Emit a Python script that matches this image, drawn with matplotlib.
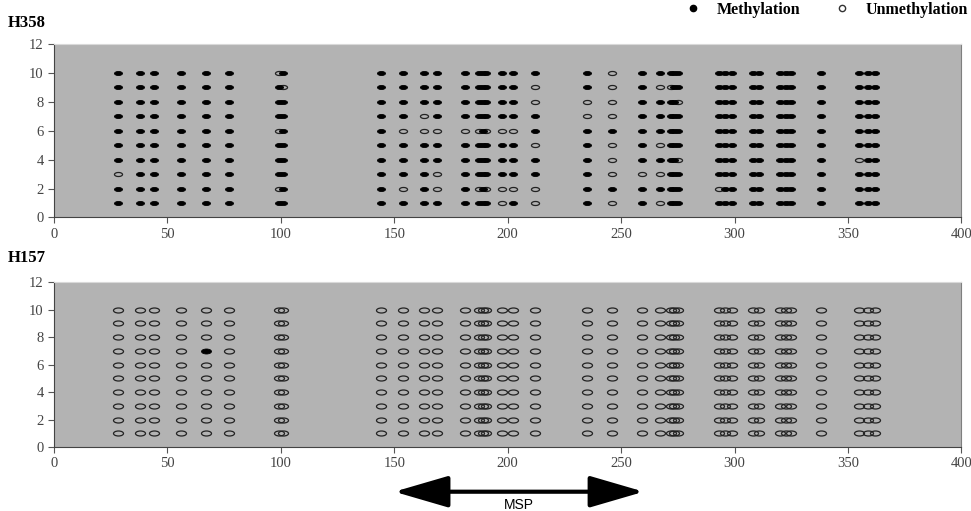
import matplotlib
matplotlib.use("Agg")
import matplotlib.pyplot as plt
from matplotlib.path import Path
from matplotlib.transforms import Affine2D
from matplotlib.lines import Line2D

# CpG site positions (bp)
sites = [28, 38, 44, 56, 67, 77, 99, 101,
         144, 154, 163, 169, 181, 187.5, 189, 190.5, 197.5, 202.5, 212,
         235, 246, 259, 267, 272, 273.5, 275,
         293, 296, 299, 308, 311, 320, 322.5, 325, 338, 355, 359, 362]
clones = [1, 2, 3, 4, 5, 6, 7, 8, 9, 10]

# H358: clones that are unmethylated at a given site (all others methylated)
h358_unmeth = {28: [3], 99: [10, 6, 2], 101: [9], 154: [6, 2], 163: [7, 6],
               169: [6, 3, 2], 181: [6], 187.5: [6, 2], 190.5: [6, 2],
               197.5: [6, 2, 1], 202.5: [6, 2], 212: [9, 8, 5, 2, 1],
               235: [8, 7], 246: [10, 9, 8, 7, 5, 4, 3, 1], 259: [3],
               267: [9, 5, 3, 1], 272: [9], 275: [8, 4], 293: [2], 355: [4]}

# H157: clones that are methylated at a given site (all others unmethylated)
h157_meth = {67: [7]}

panel_names = ["H358", "H157"]
x_ticks = [0, 50, 100, 150, 200, 250, 300, 350, 400]
y_ticks = [0, 2, 4, 6, 8, 10, 12]
msp_range = [150, 260]

bg = "#b3b3b3"
serif = "Liberation Serif"

ellipse = Path.unit_circle().transformed(Affine2D().scale(1, 0.5))


def split_status(meth_lookup, default_meth):
    mx, my, ux, uy = [], [], [], []
    for s in sites:
        listed = meth_lookup.get(s, [])
        for c in clones:
            is_meth = (c not in listed) if default_meth else (c in listed)
            if is_meth:
                mx.append(s); my.append(c)
            else:
                ux.append(s); uy.append(c)
    return mx, my, ux, uy


fig = plt.figure(figsize=(9.71, 5.11), dpi=100)
ax1 = fig.add_axes([0.0556, 0.5744, 0.9345, 0.3395])
ax2 = fig.add_axes([0.0556, 0.1252, 0.9345, 0.3229])

panels = [(ax1, split_status(h358_unmeth, True), 5.8),
          (ax2, split_status(h157_meth, False), 7.2)]

for ax, (mx, my, ux, uy), ms in panels:
    ax.set_facecolor(bg)
    ax.plot(ux, uy, linestyle="none", marker=ellipse, markersize=ms,
            markerfacecolor="none", markeredgecolor="#222222", markeredgewidth=0.9)
    ax.plot(mx, my, linestyle="none", marker=ellipse, markersize=ms,
            markerfacecolor="black", markeredgecolor="black", markeredgewidth=0.6)
    ax.set_xlim(0, 400)
    ax.set_ylim(0, 12)
    ax.set_xticks(x_ticks)
    ax.set_yticks(y_ticks)
    ax.tick_params(direction="out", length=4, color="#555555", labelcolor="#444444",
                   labelsize=10.5)
    for lab in ax.get_xticklabels() + ax.get_yticklabels():
        lab.set_fontfamily(serif)
    ax.spines["left"].set_color("#444444")
    ax.spines["bottom"].set_color("#444444")
    ax.spines["top"].set_color("#d9d9d9")
    ax.spines["right"].set_color("#7f7f7f")

fig.text(0.008, 0.955, panel_names[0], fontfamily=serif, fontweight="bold",
         fontsize=12, va="center")
fig.text(0.008, 0.495, panel_names[1], fontfamily=serif, fontweight="bold",
         fontsize=12, va="center")

handles = [Line2D([], [], linestyle="none", marker="o", markersize=4.5,
                  markerfacecolor="black", markeredgecolor="black", label="Methylation"),
           Line2D([], [], linestyle="none", marker="o", markersize=4.5,
                  markerfacecolor="white", markeredgecolor="#333333", label="Unmethylation")]
fig.legend(handles=handles, loc="upper right", bbox_to_anchor=(1.012, 1.025), ncol=2,
           frameon=False, prop={"family": serif, "weight": "bold", "size": 11.5},
           handletextpad=0.5, columnspacing=1.6)

# MSP amplicon arrow under the lower panel
ax2.annotate("", xy=(msp_range[0], -3.25), xytext=(msp_range[1], -3.25),
             xycoords="data", annotation_clip=False,
             arrowprops=dict(arrowstyle="<|-|>,head_length=2.4,head_width=0.7",
                             mutation_scale=14, lw=3, color="black",
                             shrinkA=0, shrinkB=0))
ax2.text(sum(msp_range) / 2, -4.2, "MSP", ha="center", va="center",
         fontfamily="Liberation Sans", fontsize=10, clip_on=False)

fig.savefig("out.png", dpi=100)
